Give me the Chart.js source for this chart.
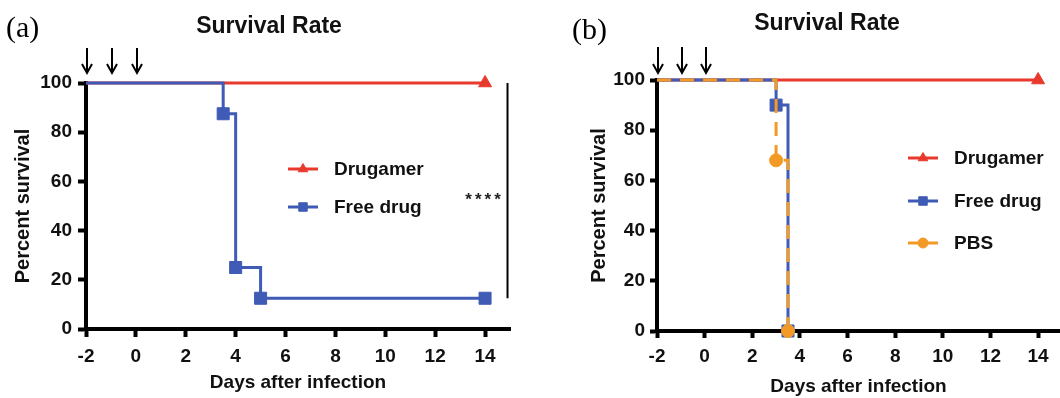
<!DOCTYPE html>
<html>
<head>
<meta charset="utf-8">
<script src="https://cdn.jsdelivr.net/npm/chart.js@4.4.1/dist/chart.umd.min.js"></script>
<style>
  html, body { margin: 0; padding: 0; background: #fff; }
  #wrap { display: flex; width: 1060px; height: 398px; }
  canvas { display: block; }
</style>
</head>
<body>
<div id="wrap">
  <canvas id="chartA" width="530" height="398"></canvas>
  <canvas id="chartB" width="530" height="398"></canvas>
</div>
<script>
// axis ticks and dosing days (arrows)
const xTicks = [-2, 0, 2, 4, 6, 8, 10, 12, 14];
const yTicks = [0, 20, 40, 60, 80, 100];
const doseDays = [-2, -1, 0];

// panel (a)
const drugamerDaysA = [-2, 14];
const drugamerSurvA = [100, 100];
const freeDaysA = [-2, 3.5, 4, 5, 14];
const freeSurvA = [100, 87.5, 25, 12.5, 12.5];

// panel (b)
const drugamerDaysB = [-2, 14];
const drugamerSurvB = [100, 100];
const freeDaysB = [-2, 3, 3.5];
const freeSurvB = [100, 90, 0];
const pbsDaysB = [-2, 3, 3.5];
const pbsSurvB = [100, 68, 0];

const sans = '"Liberation Sans", Arial, Helvetica, sans-serif';
const RED = '#e8392c', BLUE = '#3f5bb5', ORANGE = '#f39a26';

function pts(xs, ys) {
  return xs.map((x, i) => ({ x: x, y: ys[i] }));
}

function series(label, xs, ys, color, style, radius, order, dash) {
  return {
    label: label,
    data: pts(xs, ys),
    borderColor: color,
    backgroundColor: color,
    borderWidth: 3,
    borderDash: dash || [],
    stepped: 'before',
    pointStyle: style,
    pointRadius: xs.map((x, i) => i === 0 ? 0 : radius),
    pointBackgroundColor: color,
    pointBorderColor: color,
    pointBorderWidth: 1,
    clip: false,
    order: order
  };
}

const overlay = {
  id: 'overlay',
  afterDraw(chart, args, o) {
    const ctx = chart.ctx, xs = chart.scales.x, ys = chart.scales.y;
    ctx.save();
    ctx.fillStyle = '#000';
    ctx.textBaseline = 'middle';
    ctx.textAlign = 'left';
    ctx.font = '30px "Liberation Serif", "Times New Roman", serif';
    ctx.fillText(o.letter, o.letterX, o.letterY);

    ctx.font = 'bold 23px ' + sans;
    ctx.textAlign = 'center';
    ctx.fillStyle = '#111';
    ctx.fillText('Survival Rate', o.titleX, o.titleY);

    // dosing arrows
    ctx.strokeStyle = '#000';
    ctx.lineWidth = 2;
    doseDays.forEach(d => {
      const px = Math.round(xs.getPixelForValue(d)) + 1;
      ctx.beginPath();
      ctx.moveTo(px, o.arrowTop);
      ctx.lineTo(px, o.arrowBottom - 1);
      ctx.stroke();
      ctx.beginPath();
      ctx.moveTo(px - 5, o.arrowBottom - 9);
      ctx.lineTo(px, o.arrowBottom);
      ctx.lineTo(px + 5, o.arrowBottom - 9);
      ctx.stroke();
    });

    // legend inside the plot
    o.legend.forEach((row, i) => {
      const ds = chart.data.datasets[row];
      const ly = o.legendY[i];
      ctx.setLineDash([]);
      ctx.strokeStyle = ds.borderColor;
      ctx.lineWidth = 3;
      ctx.beginPath();
      ctx.moveTo(o.legendX, ly);
      ctx.lineTo(o.legendX + 30, ly);
      ctx.stroke();
      ctx.fillStyle = ds.borderColor;
      ctx.lineWidth = 1;
      const r = ds.pointStyle === 'rect' ? 6 : ds.pointStyle === 'triangle' ? 5.5 : 5;
      Chart.helpers.drawPoint(ctx, { pointStyle: ds.pointStyle, radius: r, borderWidth: 1, rotation: 0 }, o.legendX + 15, ly);
      ctx.fillStyle = '#111';
      ctx.textAlign = 'left';
      ctx.font = 'bold 19px ' + sans;
      ctx.fillText(ds.label, o.legendX + 46, ly + 1);
    });

    // significance bar
    if (o.sig) {
      const px = xs.getPixelForValue(o.sig.day);
      ctx.strokeStyle = '#000';
      ctx.lineWidth = 2;
      ctx.beginPath();
      ctx.moveTo(px, ys.getPixelForValue(o.sig.top));
      ctx.lineTo(px, ys.getPixelForValue(o.sig.bottom));
      ctx.stroke();
      ctx.fillStyle = '#222';
      ctx.textAlign = 'center';
      ctx.font = 'bold 17px ' + sans;
      ctx.letterSpacing = '3px';
      ctx.fillText('****', xs.getPixelForValue(o.sig.textDay) + 2, ys.getPixelForValue(o.sig.textY) + 4);
    }
    ctx.restore();
  }
};

function makeChart(id, datasets, c) {
  const tickFont = { size: 19, weight: 'bold', family: sans };
  return new Chart(document.getElementById(id), {
    type: 'line',
    data: { datasets: datasets },
    plugins: [overlay],
    options: {
      responsive: false,
      animation: false,
      devicePixelRatio: 1,
      layout: { autoPadding: false, padding: { left: 0, right: c.padRight, top: c.top, bottom: 0 } },
      plugins: {
        legend: { display: false },
        tooltip: { enabled: false },
        overlay: c.overlay
      },
      scales: {
        x: {
          type: 'linear',
          min: -2,
          max: c.xMax,
          afterBuildTicks: s => { s.ticks = xTicks.map(v => ({ value: v })); },
          afterFit: s => { s.height = c.xHeight; s.paddingRight = 0; s.paddingLeft = 0; },
          grid: { drawOnChartArea: false, drawTicks: true, tickLength: c.xTickLen, tickColor: '#000', tickWidth: 4 },
          border: { color: '#000', width: 4 },
          ticks: { color: '#111', font: tickFont, padding: c.xTickPad, autoSkip: false, maxRotation: 0 },
          title: { display: true, text: 'Days after infection', color: '#111', font: tickFont, padding: { top: 0, bottom: c.xTitlePad } }
        },
        y: {
          min: 0,
          max: 100,
          afterBuildTicks: s => { s.ticks = yTicks.map(v => ({ value: v })); },
          afterFit: s => { s.width = c.yWidth; },
          grid: { drawOnChartArea: false, drawTicks: true, tickLength: c.yTickLen, tickColor: '#000', tickWidth: 4 },
          border: { color: '#000', width: 4 },
          ticks: { color: '#111', font: tickFont, padding: c.yTickPad },
          title: { display: true, text: 'Percent survival', color: '#111', font: { size: 20, weight: 'bold', family: sans }, padding: { top: c.yTitlePad, bottom: 0 } }
        }
      }
    }
  });
}

makeChart('chartA', [
  series('Drugamer', drugamerDaysA, drugamerSurvA, RED, 'triangle', 7.5, 3),
  series('Free drug', freeDaysA, freeSurvA, BLUE, 'rect', 8.5, 2)
], {
  padRight: 20, top: 83, xMax: 15, xHeight: 69, yWidth: 86,
  xTickLen: 8, xTickPad: 8, yTickLen: 8, yTickPad: 6, xTitlePad: 4, yTitlePad: 11,
  overlay: {
    letter: '(a)', letterX: 6, letterY: 29,
    titleX: 269, titleY: 27,
    arrowTop: 48, arrowBottom: 73,
    legend: [0, 1], legendX: 288, legendY: [169, 207],
    sig: { day: 14.9, top: 100, bottom: 12.5, textDay: 13.9, textY: 54 }
  }
});

makeChart('chartB', [
  series('Drugamer', drugamerDaysB, drugamerSurvB, RED, 'triangle', 7.5, 3),
  series('Free drug', freeDaysB, freeSurvB, BLUE, 'rect', 8.5, 2),
  series('PBS', pbsDaysB, pbsSurvB, ORANGE, 'circle', 6.5, 1, [14, 9])
], {
  padRight: 0, top: 80, xMax: 14.92, xHeight: 67, yWidth: 127,
  xTickLen: 7, xTickPad: 7, yTickLen: 7, yTickPad: 5, xTitlePad: 0, yTitlePad: 57,
  overlay: {
    letter: '(b)', letterX: 42, letterY: 31,
    titleX: 297, titleY: 24,
    arrowTop: 47, arrowBottom: 73,
    legend: [0, 1, 2], legendX: 378, legendY: [158, 201, 243],
    sig: null
  }
});
</script>
</body>
</html>
